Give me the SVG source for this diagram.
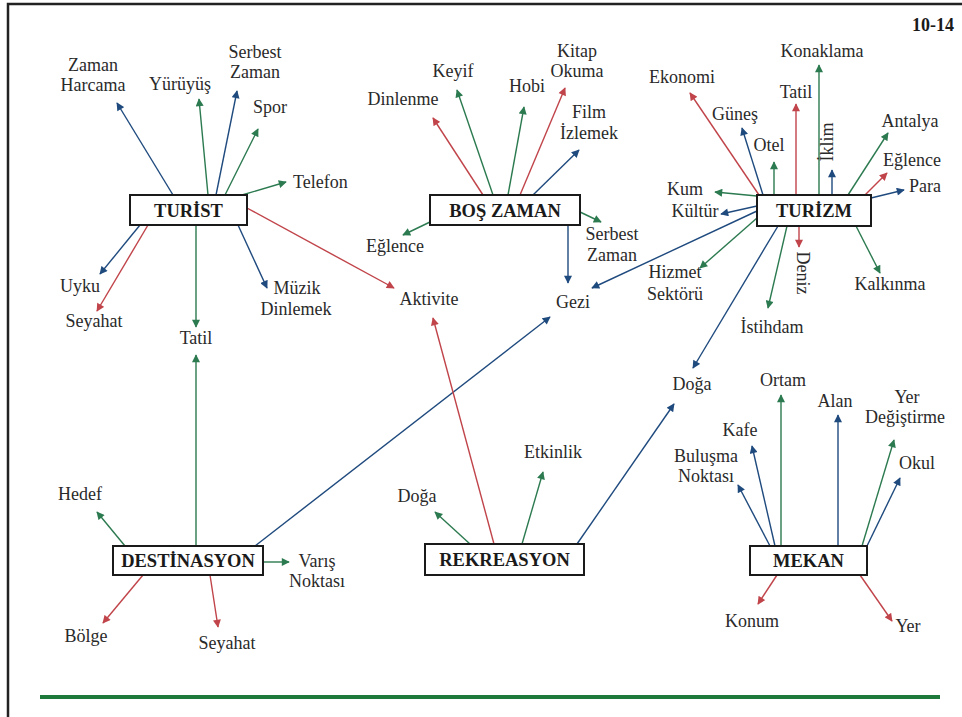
<svg xmlns="http://www.w3.org/2000/svg" width="962" height="717" viewBox="0 0 962 717">
<defs>
<style>
.t{font-family:'Liberation Serif','Times New Roman',serif;font-size:18px;fill:#2a2a2a;text-anchor:middle}
.s{text-anchor:start}
.b{font-family:'Liberation Serif','Times New Roman',serif;font-size:18.5px;font-weight:bold;fill:#1a1a1a;text-anchor:middle}
.box{fill:#fff;stroke:#1a1a1a;stroke-width:2}
.g{stroke:#2c7a50;stroke-width:1.4;fill:none;marker-end:url(#ag)}
.r{stroke:#c0444a;stroke-width:1.4;fill:none;marker-end:url(#ar)}
.u{stroke:#1f4a7e;stroke-width:1.4;fill:none;marker-end:url(#au)}
</style>
<marker id="ag" viewBox="0 0 10 10" refX="9" refY="5" markerWidth="9" markerHeight="8" markerUnits="userSpaceOnUse" orient="auto"><path d="M0,0 L10,5 L0,10 z" fill="#2c7a50"/></marker>
<marker id="ar" viewBox="0 0 10 10" refX="9" refY="5" markerWidth="9" markerHeight="8" markerUnits="userSpaceOnUse" orient="auto"><path d="M0,0 L10,5 L0,10 z" fill="#c0444a"/></marker>
<marker id="au" viewBox="0 0 10 10" refX="9" refY="5" markerWidth="9" markerHeight="8" markerUnits="userSpaceOnUse" orient="auto"><path d="M0,0 L10,5 L0,10 z" fill="#1f4a7e"/></marker>
</defs>
<rect x="0" y="0" width="962" height="717" fill="#fff"/>
<path d="M8,717 V4 H962" fill="none" stroke="#222" stroke-width="2.5"/>
<line x1="40" y1="697" x2="940" y2="697" stroke="#1e7a3a" stroke-width="4"/>
<text class="b" x="954" y="31" style="text-anchor:end;font-size:18px">10-14</text>

<g id="connectors">
<line class="u" x1="173" y1="195" x2="117" y2="103"/>
<line class="g" x1="208" y1="195" x2="199" y2="99"/>
<line class="u" x1="216" y1="195" x2="237" y2="91"/>
<line class="g" x1="225" y1="195" x2="258" y2="129"/>
<line class="g" x1="242" y1="195" x2="286" y2="182"/>
<line class="u" x1="140" y1="225" x2="100" y2="274"/>
<line class="r" x1="148" y1="225" x2="97" y2="311"/>
<line class="g" x1="196" y1="225" x2="196" y2="327"/>
<line class="u" x1="238" y1="225" x2="267" y2="288"/>
<line class="r" x1="247" y1="208" x2="394" y2="288"/>

<line class="g" x1="196" y1="546" x2="196" y2="355"/>
<line class="g" x1="125" y1="546" x2="97" y2="512"/>
<line class="u" x1="255" y1="546" x2="550" y2="317"/>
<line class="g" x1="263" y1="562" x2="289" y2="562"/>
<line class="r" x1="143" y1="575" x2="103" y2="623"/>
<line class="r" x1="210" y1="575" x2="218" y2="627"/>

<line class="r" x1="483" y1="195" x2="433" y2="118"/>
<line class="g" x1="493" y1="195" x2="457" y2="90"/>
<line class="g" x1="508" y1="195" x2="524" y2="107"/>
<line class="r" x1="520" y1="195" x2="565" y2="88"/>
<line class="u" x1="533" y1="195" x2="579" y2="150"/>
<line class="g" x1="430" y1="222" x2="403" y2="235"/>
<line class="g" x1="580" y1="212" x2="601" y2="222"/>
<line class="u" x1="568" y1="225" x2="568" y2="283"/>

<line class="r" x1="759" y1="195" x2="690" y2="93"/>
<line class="u" x1="763" y1="195" x2="742" y2="128"/>
<line class="g" x1="774" y1="195" x2="774" y2="162"/>
<line class="r" x1="796" y1="195" x2="796" y2="104"/>
<line class="g" x1="819" y1="195" x2="819" y2="65"/>
<line class="u" x1="832" y1="195" x2="832" y2="170"/>
<line class="g" x1="848" y1="195" x2="888" y2="133"/>
<line class="r" x1="865" y1="195" x2="887" y2="173"/>
<line class="u" x1="871" y1="198" x2="904" y2="190"/>
<line class="g" x1="757" y1="196" x2="715" y2="192"/>
<line class="u" x1="757" y1="206" x2="721" y2="214"/>
<line class="u" x1="757" y1="211" x2="592" y2="288"/>
<line class="g" x1="757" y1="218" x2="700" y2="268"/>
<line class="r" x1="799" y1="226" x2="799" y2="247"/>
<line class="g" x1="787" y1="226" x2="768" y2="308"/>
<line class="g" x1="856" y1="226" x2="880" y2="273"/>
<line class="u" x1="778" y1="226" x2="693" y2="368"/>

<line class="r" x1="494" y1="544" x2="433" y2="318"/>
<line class="g" x1="470" y1="544" x2="435" y2="512"/>
<line class="g" x1="522" y1="544" x2="543" y2="472"/>
<line class="u" x1="577" y1="544" x2="674" y2="404"/>

<line class="u" x1="770" y1="546" x2="738" y2="485"/>
<line class="u" x1="775" y1="546" x2="752" y2="446"/>
<line class="g" x1="781" y1="546" x2="781" y2="395"/>
<line class="u" x1="838" y1="546" x2="838" y2="415"/>
<line class="g" x1="862" y1="546" x2="894" y2="440"/>
<line class="u" x1="867" y1="546" x2="900" y2="478"/>
<line class="r" x1="777" y1="575" x2="758" y2="604"/>
<line class="r" x1="860" y1="575" x2="892" y2="621"/>
</g>

<g id="turist"><rect class="box" x="130" y="195" width="117" height="30"/><text class="b" x="188.5" y="216.5">TURİST</text></g>
<g id="bos-zaman"><rect class="box" x="430" y="195" width="150" height="30"/><text class="b" x="505" y="216.5">BOŞ ZAMAN</text></g>
<g id="turizm"><rect class="box" x="757" y="195" width="114" height="31"/><text class="b" x="814" y="217">TURİZM</text></g>
<g id="destinasyon"><rect class="box" x="113" y="546" width="150" height="29"/><text class="b" x="188" y="567">DESTİNASYON</text></g>
<g id="rekreasyon"><rect class="box" x="425" y="544" width="159" height="31"/><text class="b" x="504.5" y="566">REKREASYON</text></g>
<g id="mekan"><rect class="box" x="750" y="546" width="117" height="29"/><text class="b" x="808.5" y="567">MEKAN</text></g>

<g id="t-zaman-harcama"><text class="t" x="93" y="71">Zaman</text><text class="t" x="93" y="91">Harcama</text></g>
<g id="t-yuruyus"><text class="t" x="180" y="90">Yürüyüş</text></g>
<g id="t-serbest-zaman"><text class="t" x="255" y="58">Serbest</text><text class="t" x="255" y="78">Zaman</text></g>
<g id="t-spor"><text class="t" x="270" y="113">Spor</text></g>
<g id="t-telefon"><text class="t s" x="293" y="188">Telefon</text></g>
<g id="t-uyku"><text class="t" x="80" y="292">Uyku</text></g>
<g id="t-seyahat"><text class="t" x="94" y="327">Seyahat</text></g>
<g id="tatil"><text class="t" x="196" y="344">Tatil</text></g>
<g id="t-muzik"><text class="t" x="297" y="294">Müzik</text><text class="t" x="296" y="315">Dinlemek</text></g>
<g id="aktivite"><text class="t" x="429" y="305">Aktivite</text></g>

<g id="b-dinlenme"><text class="t" x="403" y="105">Dinlenme</text></g>
<g id="b-keyif"><text class="t" x="453" y="77">Keyif</text></g>
<g id="b-hobi"><text class="t" x="527" y="92">Hobi</text></g>
<g id="b-kitap"><text class="t" x="577" y="57">Kitap</text><text class="t" x="577" y="77">Okuma</text></g>
<g id="b-film"><text class="t" x="589" y="118">Film</text><text class="t" x="589" y="139">İzlemek</text></g>
<g id="b-eglence"><text class="t" x="395" y="252">Eğlence</text></g>
<g id="b-serbest"><text class="t" x="612" y="240">Serbest</text><text class="t" x="612" y="261">Zaman</text></g>
<g id="gezi"><text class="t" x="573" y="308">Gezi</text></g>

<g id="z-ekonomi"><text class="t" x="682" y="83">Ekonomi</text></g>
<g id="z-gunes"><text class="t" x="735" y="120">Güneş</text></g>
<g id="z-otel"><text class="t" x="769" y="151">Otel</text></g>
<g id="z-tatil"><text class="t" x="796" y="98">Tatil</text></g>
<g id="z-konaklama"><text class="t" x="822" y="57">Konaklama</text></g>
<g id="z-iklim"><text class="t" transform="translate(828,142) rotate(-90)" x="0" y="5">İklim</text></g>
<g id="z-antalya"><text class="t" x="910" y="127">Antalya</text></g>
<g id="z-eglence"><text class="t" x="912" y="166">Eğlence</text></g>
<g id="z-para"><text class="t" x="925" y="192">Para</text></g>
<g id="z-kum"><text class="t" x="685" y="195">Kum</text></g>
<g id="z-kultur"><text class="t" x="695" y="217">Kültür</text></g>
<g id="z-hizmet"><text class="t" x="675" y="278">Hizmet</text><text class="t" x="675" y="300">Sektörü</text></g>
<g id="z-deniz"><text class="t" transform="translate(802,273) rotate(90)" x="0" y="5">Deniz</text></g>
<g id="z-istihdam"><text class="t" x="772" y="333">İstihdam</text></g>
<g id="z-kalkinma"><text class="t" x="890" y="290">Kalkınma</text></g>
<g id="doga-1"><text class="t" x="692" y="390">Doğa</text></g>

<g id="d-hedef"><text class="t" x="80" y="500">Hedef</text></g>
<g id="d-varis"><text class="t" x="317" y="567">Varış</text><text class="t" x="317" y="587">Noktası</text></g>
<g id="d-bolge"><text class="t" x="86" y="642">Bölge</text></g>
<g id="d-seyahat"><text class="t" x="227" y="649">Seyahat</text></g>

<g id="r-doga"><text class="t" x="417" y="502">Doğa</text></g>
<g id="r-etkinlik"><text class="t" x="553" y="458">Etkinlik</text></g>

<g id="m-ortam"><text class="t" x="783" y="386">Ortam</text></g>
<g id="m-kafe"><text class="t" x="740" y="436">Kafe</text></g>
<g id="m-bulusma"><text class="t" x="706" y="462">Buluşma</text><text class="t" x="706" y="482">Noktası</text></g>
<g id="m-alan"><text class="t" x="835" y="407">Alan</text></g>
<g id="m-yer-degistirme"><text class="t" x="907" y="403">Yer</text><text class="t" x="905" y="423">Değiştirme</text></g>
<g id="m-okul"><text class="t" x="917" y="469">Okul</text></g>
<g id="m-konum"><text class="t" x="752" y="627">Konum</text></g>
<g id="m-yer"><text class="t" x="908" y="632">Yer</text></g>
</svg>
